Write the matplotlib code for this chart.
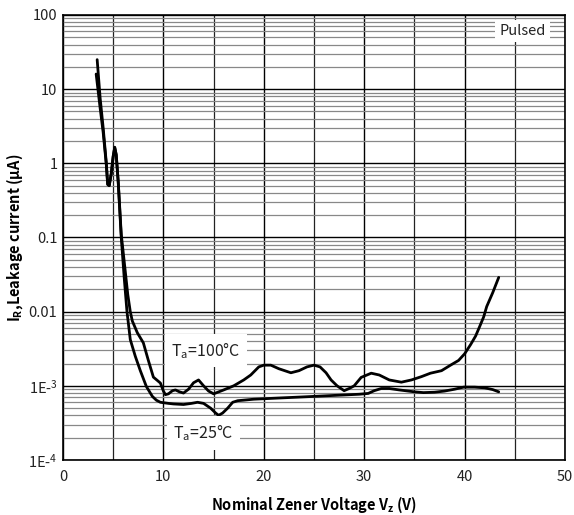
import matplotlib
matplotlib.use("Agg")
import matplotlib.pyplot as plt
from matplotlib.ticker import FixedLocator, LogLocator, NullFormatter

plt.rcParams['font.family'] = ['Noto Sans CJK JP', 'DejaVu Sans']
plt.rcParams['mathtext.fontset'] = 'custom'
plt.rcParams['mathtext.rm'] = 'Noto Sans CJK JP'
plt.rcParams['mathtext.it'] = 'Noto Sans CJK JP'
plt.rcParams['mathtext.bf'] = 'Noto Sans CJK JP:bold'

# Ta = 25 C (lower curve)
v25 = [3.3, 3.7, 4.0, 4.3, 4.45, 4.6, 4.8, 5.0, 5.15, 5.3, 5.5, 5.8, 6.1, 6.37, 6.7,
       7.2, 7.7, 8.3, 8.9, 9.3, 9.7, 10.5, 11.0, 12.0, 12.8, 13.4, 14.0, 14.7, 15.2,
       15.5, 15.9, 16.4, 16.9, 17.4, 19.0, 21.0, 24.0, 27.7, 29.5, 30.4, 31.0, 31.7,
       32.5, 33.5, 35.0, 35.9, 37.0, 38.0, 39.0, 39.9, 41.0, 42.0, 42.8, 43.4]
i25 = [16, 5.5, 2.6, 1.0, 0.52, 0.50, 0.72, 1.25, 1.62, 1.3, 0.55, 0.10, 0.028,
       0.010, 0.0042, 0.0025, 0.0016, 0.00098, 0.00072, 0.00064, 0.0006, 0.00058,
       0.00057, 0.00056, 0.00058, 0.0006, 0.00058, 0.0005, 0.00043, 0.0004, 0.00043,
       0.0005, 0.0006, 0.00063, 0.00066, 0.00068, 0.00071, 0.00075, 0.00077, 0.00079,
       0.00086, 0.00092, 0.00092, 0.00088, 0.00083, 0.00081, 0.00082, 0.00085, 0.0009,
       0.00096, 0.00096, 0.00094, 0.00089, 0.00083]

# Ta = 100 C (upper curve)
v100 = [3.4, 3.7, 4.0, 4.3, 4.45, 4.6, 4.8, 5.0, 5.15, 5.3, 5.5, 5.8, 6.2, 6.45, 6.7,
        6.9, 7.4, 8.0, 8.5, 9.0, 9.4, 9.7, 10.0, 10.2, 10.5, 10.9, 11.2, 11.6, 12.0,
        12.5, 13.0, 13.5, 14.0, 14.5, 15.0, 16.0, 17.0, 18.0, 18.7, 19.5, 20.0, 20.7,
        21.5, 22.7, 23.5, 24.3, 25.0, 25.6, 26.2, 26.7, 27.3, 28.0, 28.5, 29.0, 29.7,
        30.7, 31.5, 32.5, 33.7, 34.7, 35.7, 36.6, 37.7, 38.6, 39.4, 40.0, 40.6, 41.1,
        41.5, 41.9, 42.2, 42.8, 43.4]
i100 = [25, 7.5, 3.0, 1.05, 0.52, 0.50, 0.72, 1.25, 1.65, 1.3, 0.56, 0.11, 0.035,
        0.017, 0.010, 0.0075, 0.0052, 0.0038, 0.0022, 0.00131, 0.00118, 0.00109,
        0.00085, 0.00076, 0.00078, 0.00086, 0.00088, 0.00083, 0.0008, 0.0009, 0.0011,
        0.0012, 0.001, 0.00085, 0.00078, 0.00088, 0.001, 0.0012, 0.0014, 0.0018, 0.0019,
        0.0019, 0.0017, 0.0015, 0.0016, 0.0018, 0.0019, 0.0018, 0.0015, 0.0012, 0.001,
        0.00086, 0.00092, 0.001, 0.0013, 0.00148, 0.0014, 0.0012, 0.00112, 0.0012,
        0.00133, 0.00148, 0.0016, 0.0019, 0.0022, 0.0027, 0.0036, 0.0047, 0.0063,
        0.0085, 0.0117, 0.018, 0.029]

xticks = [0, 10, 20, 30, 40, 50]
yticks = [1e-4, 1e-3, 1e-2, 1e-1, 1, 10, 100]
ylabels = [r'1E-$^{4}$', r'1E-$^{3}$', '0.01', '0.1', '1', '10', '100']

fig = plt.figure(figsize=(5.74, 5.15), dpi=100)
ax = fig.add_axes([0.1098, 0.1068, 0.8745, 0.8641])
ax.set_yscale('log')
ax.set_xlim(0, 50)
ax.set_ylim(1e-4, 100)

ax.xaxis.set_major_locator(FixedLocator(xticks))
ax.xaxis.set_minor_locator(FixedLocator([5, 15, 25, 35, 45]))
ax.yaxis.set_major_locator(FixedLocator(yticks))
ax.set_yticklabels(ylabels)
ax.yaxis.set_minor_locator(LogLocator(base=10, subs=range(2, 10), numticks=20))
ax.yaxis.set_minor_formatter(NullFormatter())

ax.grid(which='major', axis='both', color='black', lw=1.0)
ax.grid(which='minor', axis='x', color='#222222', lw=0.9)
ax.grid(which='minor', axis='y', color='#888888', lw=0.9)
ax.set_axisbelow(True)
ax.tick_params(which='both', length=0, labelsize=10.5, colors='#222222')
ax.tick_params(axis='x', pad=7)
ax.tick_params(axis='y', pad=4)
for s in ax.spines.values():
    s.set_color('black')
    s.set_linewidth(1.2)

ax.plot(v25, i25, color='black', lw=2.0, solid_joinstyle='round',
        solid_capstyle='round', zorder=3)
ax.plot(v100, i100, color='black', lw=2.0, solid_joinstyle='round',
        solid_capstyle='round', zorder=3)

ax.text(14.2, 0.0030, r'T$_{\mathregular{a}}$=100°C', ha='center', va='center',
        fontsize=11.5, color='#222222',
        bbox=dict(facecolor='white', edgecolor='none', boxstyle='square,pad=0.4'), zorder=4)
ax.text(14.0, 0.000231, r'T$_{\mathregular{a}}$=25°C', ha='center', va='center',
        fontsize=11.5, color='#222222',
        bbox=dict(facecolor='white', edgecolor='none', boxstyle='square,pad=0.4'), zorder=4)
ax.text(45.8, 61, 'Pulsed', ha='center', va='center', fontsize=10.5, color='#222222',
        bbox=dict(facecolor='white', edgecolor='none', boxstyle='square,pad=0.3'), zorder=4)

ax.set_xlabel(r'Nominal Zener Voltage V$_{\mathbf{z}}$ (V)', fontsize=10.5,
              fontweight='bold', labelpad=8)
ax.set_ylabel(r'I$_{\mathbf{R}}$,Leakage current (μA)', fontsize=10.5,
              fontweight='bold', labelpad=2)

fig.savefig('out.png', dpi=100)
